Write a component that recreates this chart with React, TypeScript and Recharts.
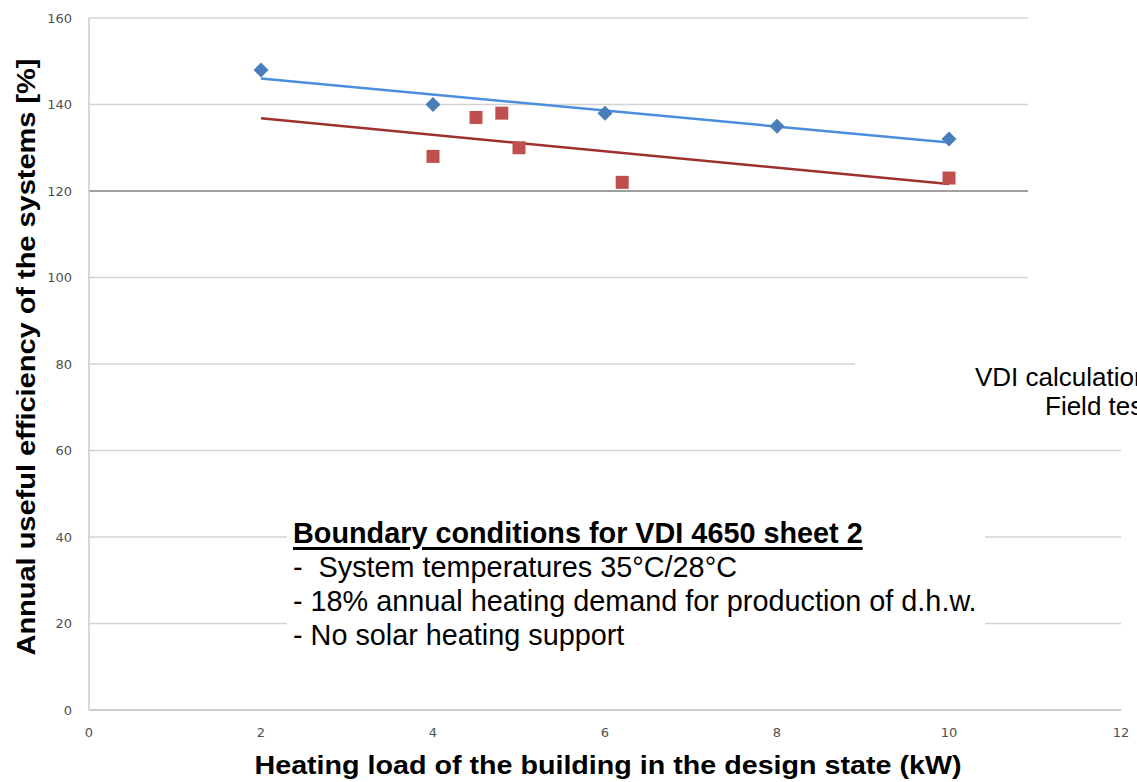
import { ScatterChart, Scatter, XAxis, YAxis, CartesianGrid, ReferenceLine, Label } from "recharts";

const xTicks = [0, 2, 4, 6, 8, 10, 12];
const yTicks = [0, 20, 40, 60, 80, 100, 120, 140, 160];

// VDI 4650 calculation (blue diamonds)
const vdiCalc = [
  { x: 2, y: 148 },
  { x: 4, y: 140 },
  { x: 6, y: 138 },
  { x: 8, y: 135 },
  { x: 10, y: 132 },
];

// field test results (red squares)
const fieldTest = [
  { x: 4, y: 128 },
  { x: 4.5, y: 137 },
  { x: 4.8, y: 138 },
  { x: 5, y: 130 },
  { x: 6.2, y: 122 },
  { x: 10, y: 123 },
];

// trend lines, end points
const vdiTrend = [
  { x: 2, y: 146 },
  { x: 10, y: 131.2 },
];
const fieldTrend = [
  { x: 2, y: 136.8 },
  { x: 10, y: 121.6 },
];

const xTitle = "Heating load of the building in the design state (kW)";
const yTitle = "Annual useful efficiency of the systems [%]";
const boundaryTitle = "Boundary conditions for VDI 4650 sheet 2";
const boundaryLines = [
  "-  System temperatures 35°C/28°C",
  "- 18% annual heating demand for production of d.h.w.",
  "- No solar heating support",
];
const legendNames = ["VDI calculation", "Field test"];

const sans = '"Liberation Sans", Arial, sans-serif';
const tickStyle = { fill: "#505050", fontSize: 13, fontFamily: '"DejaVu Sans", sans-serif' };

const Diamond = (props: any) => {
  const { cx, cy } = props;
  const r = 7.5;
  return (
    <polygon
      points={`${cx},${cy - r} ${cx + r},${cy} ${cx},${cy + r} ${cx - r},${cy}`}
      fill="#4a7ebb"
    />
  );
};

const Square = (props: any) => {
  const { cx, cy } = props;
  return <rect x={cx - 6.5} y={cy - 6.5} width={13} height={13} fill="#c0504d" />;
};

const NoPoint = () => <g />;

export default function App() {
  return (
    <div
      style={{
        position: "absolute",
        left: 0,
        top: 0,
        width: 1137,
        height: 782,
        overflow: "hidden",
        background: "#fff",
        fontFamily: sans,
      }}
    >
      <ScatterChart width={1137} height={782} margin={{ top: 18, right: 16, bottom: 0, left: 0 }}>
        <CartesianGrid vertical={false} stroke="#d4d4d4" strokeWidth={1.3} />
        <ReferenceLine y={120} stroke="#8a8a8a" strokeWidth={1.3} />
        <XAxis
          type="number"
          dataKey="x"
          domain={[0, 12]}
          ticks={xTicks}
          height={72}
          tickLine={false}
          tickSize={0}
          tickMargin={18}
          axisLine={{ stroke: "#c4c4c4", strokeWidth: 1.3 }}
          tick={tickStyle}
        >
          <Label
            content={(p: any) => {
              const vb = p.viewBox;
              return (
                <text
                  x={vb.x + vb.width / 2 + 3}
                  y={vb.y + 64}
                  textAnchor="middle"
                  fontSize={25}
                  fontWeight="bold"
                  fontFamily={sans}
                  fill="#000"
                  textLength={707}
                  lengthAdjust="spacingAndGlyphs"
                >
                  {xTitle}
                </text>
              );
            }}
          />
        </XAxis>
        <YAxis
          type="number"
          dataKey="y"
          domain={[0, 160]}
          ticks={yTicks}
          width={89}
          tickLine={false}
          tickSize={0}
          tickMargin={17}
          axisLine={{ stroke: "#c4c4c4", strokeWidth: 1.3 }}
          tick={tickStyle}
        >
          <Label
            content={(p: any) => {
              const vb = p.viewBox;
              return (
                <text
                  transform={`translate(${vb.x + 35},${vb.y + vb.height / 2 - 7}) rotate(-90)`}
                  textAnchor="middle"
                  fontSize={26}
                  fontWeight="bold"
                  fontFamily={sans}
                  fill="#000"
                  textLength={597}
                  lengthAdjust="spacingAndGlyphs"
                >
                  {yTitle}
                </text>
              );
            }}
          />
        </YAxis>
        <Scatter
          data={vdiTrend}
          line={{ stroke: "#4a8fdc", strokeWidth: 2.5 }}
          shape={NoPoint}
          isAnimationActive={false}
        />
        <Scatter
          data={fieldTrend}
          line={{ stroke: "#a0302e", strokeWidth: 2.5 }}
          shape={NoPoint}
          isAnimationActive={false}
        />
        <Scatter data={vdiCalc} shape={Diamond} isAnimationActive={false} />
        <Scatter data={fieldTest} shape={Square} isAnimationActive={false} />
      </ScatterChart>

      {/* white area right of the plot (hides grid ends) */}
      <div style={{ position: "absolute", left: 1028, top: 0, width: 109, height: 345, background: "#fff" }} />

      {/* legend box, cut off at the right edge as in the original */}
      <div style={{ position: "absolute", left: 855, top: 345, width: 282, height: 95, background: "#fff" }}>
        {legendNames.map((name, i) => (
          <div
            key={name}
            style={{
              position: "absolute",
              left: i === 0 ? 120 : 190,
              top: 18 + i * 29,
              fontSize: 26,
              lineHeight: "29px",
              whiteSpace: "nowrap",
              color: "#000",
            }}
          >
            {name}
          </div>
        ))}
      </div>

      {/* boundary conditions text box */}
      <div style={{ position: "absolute", left: 287, top: 515, width: 698, height: 142, background: "#fff" }}>
        <div
          style={{
            position: "absolute",
            left: 6,
            top: 1,
            fontSize: 28.8,
            lineHeight: "34px",
            whiteSpace: "pre",
            color: "#000",
          }}
        >
          <div
            style={{
              fontWeight: "bold",
              textDecoration: "underline",
              textDecorationThickness: 3,
              textUnderlineOffset: 4,
            }}
          >
            {boundaryTitle}
          </div>
          {boundaryLines.map((line) => (
            <div key={line}>{line}</div>
          ))}
        </div>
      </div>
    </div>
  );
}
